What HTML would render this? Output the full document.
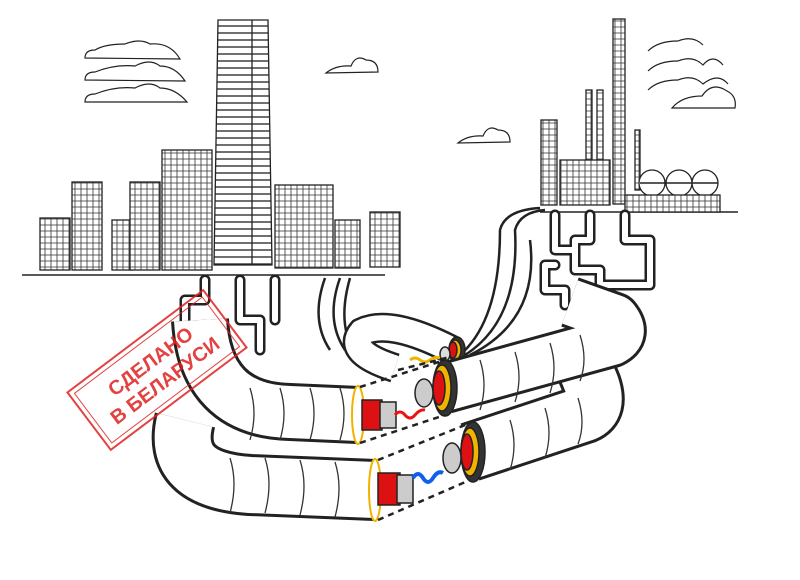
<!DOCTYPE html>
<html><head><meta charset="utf-8"><style>
html,body{margin:0;padding:0;background:#fff;}
svg{display:block}
</style></head><body>
<svg width="800" height="580" viewBox="0 0 800 580" xmlns="http://www.w3.org/2000/svg">
<defs>
<pattern id="h" width="6" height="6" patternUnits="userSpaceOnUse">
<rect width="6" height="6" fill="#fff"/><path d="M0 3H6M3 0V6" stroke="#333" stroke-width="0.8"/>
</pattern>
<pattern id="hz" width="4" height="7" patternUnits="userSpaceOnUse">
<rect width="4" height="7" fill="#fff"/><path d="M0 5H4" stroke="#222" stroke-width="1.3"/>
</pattern>
</defs>
<g stroke="#222" stroke-width="1.2" fill="none">
<path d="M85 58 q0-8 10-8 q10-6 30-6 q15-6 25 0 q20-2 30 15 z M85 80 q0-8 10-8 q20-8 40-6 q15-8 25 0 q15 0 25 15 z M85 102 q0-8 10-8 q20-8 40-6 q15-8 25 0 q15 0 27 14 z"/>
<path d="M326 73 q10-8 25-7 q5-12 15-6 q12 0 12 12 z M458 143 q10-8 25-7 q5-12 15-6 q12 0 12 12 z"/>
<path d="M648 51 q10-10 30-10 q15-6 25 4 M648 71 q10-10 30-10 q15-6 25 4 q10-12 20 0 M648 90 q10-10 30-10 q15-6 25 4 q15-12 25 0 M672 108 q10-12 30-12 q10-15 25-5 q10 5 8 17 z"/>
</g>
<g stroke="#222" stroke-width="1.3">
<rect x="40" y="218" width="30" height="52" fill="url(#h)"/>
<rect x="72" y="182" width="30" height="88" fill="url(#h)"/>
<rect x="112" y="220" width="20" height="50" fill="url(#h)"/>
<rect x="130" y="182" width="30" height="88" fill="url(#h)"/>
<rect x="162" y="150" width="50" height="120" fill="url(#h)"/>
<rect x="275" y="185" width="58" height="83" fill="url(#h)"/>
<rect x="335" y="220" width="25" height="48" fill="url(#h)"/>
<rect x="370" y="212" width="30" height="55" fill="url(#h)"/>
<path d="M218 20 H268 L272 265 H214 Z" fill="url(#hz)"/>
<path d="M252 20 V265" fill="none"/>
<path d="M22 275 H385" fill="none" stroke-width="1.6"/>
</g>
<g stroke="#222" stroke-width="1.3">
<rect x="613" y="19" width="12" height="185" fill="url(#h)"/>
<rect x="586" y="90" width="6" height="100" fill="url(#h)"/>
<rect x="597" y="90" width="6" height="100" fill="url(#h)"/>
<rect x="541" y="120" width="16" height="85" fill="url(#h)"/>
<rect x="560" y="160" width="50" height="45" fill="url(#h)"/>
<rect x="635" y="130" width="5" height="60" fill="url(#h)"/>
<circle cx="652" cy="183" r="13" fill="#fff"/>
<circle cx="679" cy="183" r="13" fill="#fff"/>
<circle cx="705" cy="183" r="13" fill="#fff"/>
<path d="M640 183 H718 M540 212 H738" fill="none" stroke-width="1.6"/>
<rect x="625" y="195" width="95" height="17" fill="url(#h)"/>
</g>
<!-- small pipes -->
<g fill="none" stroke-linecap="round" stroke-linejoin="round">
<path d="M555 215 V250 H575 M590 215 V240 H575 V270 H600 V300 M625 215 V240 H650 V285 H600 M555 265 H545 V290 H565 V305" stroke="#222" stroke-width="11"/>
<path d="M555 215 V250 H575 M590 215 V240 H575 V270 H600 V300 M625 215 V240 H650 V285 H600 M555 265 H545 V290 H565 V305" stroke="#fff" stroke-width="6"/>
<path d="M205 280 V300 H185 V330 M240 280 V320 H260 V350 M275 280 V320" stroke="#222" stroke-width="11"/>
<path d="M205 280 V300 H185 V330 M240 280 V320 H260 V350 M275 280 V320" stroke="#fff" stroke-width="6"/>
</g>
<g fill="none" stroke="#222" stroke-width="2.5">
<path d="M325 278 Q310 320 330 350 M340 278 Q325 320 345 350 M350 278 Q335 330 360 360"/>
<path d="M460 355 Q500 320 500 230 Q505 210 540 208 M465 355 Q520 320 515 230 Q520 212 545 210 M470 355 Q540 320 530 240"/>
</g>
<g fill="none">
<path d="M452 350 Q390 318 362 332 Q345 352 395 368" stroke="#222" stroke-width="30"/>
<path d="M452 350 Q390 318 362 332 Q345 352 395 368" stroke="#fff" stroke-width="25"/>
</g>
<g stroke="#222" stroke-width="1.5">
<ellipse cx="457" cy="350" rx="8" ry="13" fill="#333"/>
<ellipse cx="455" cy="350" rx="6" ry="10" fill="#f0b400"/>
<ellipse cx="453" cy="350" rx="4" ry="8" fill="#d11"/>
<ellipse cx="445" cy="354" rx="5" ry="7" fill="#ddd"/>
</g>
<path d="M410 360 q5-4 10 0 t10 0 t10-2" fill="none" stroke="#f0b400" stroke-width="3"/>
<!-- big pipes -->
<g fill="none" stroke-linecap="butt" stroke-linejoin="round">
<path d="M185 420 Q170 480 250 485 L375 490" stroke="#222" stroke-width="62"/>
<path d="M185 420 Q170 480 250 485 L375 490" stroke="#fff" stroke-width="56"/>
<path d="M470 452 L585 414 Q600 408 592 385 L585 368" stroke="#222" stroke-width="60"/>
<path d="M470 452 L585 414 Q600 408 592 385 L585 368" stroke="#fff" stroke-width="54"/>
<path d="M200 320 Q205 410 290 412 L358 415" stroke="#222" stroke-width="58"/>
<path d="M200 320 Q205 410 290 412 L358 415" stroke="#fff" stroke-width="52"/>
<path d="M445 388 L612 342 Q628 334 615 318 L570 302" stroke="#222" stroke-width="52"/>
<path d="M445 388 L612 342 Q628 334 615 318 L570 302" stroke="#fff" stroke-width="46"/>
</g>
<g fill="none" stroke="#333" stroke-width="1.3">
<path d="M250 388 q8 25 0 52 M280 388 q8 25 0 52 M310 388 q8 25 0 52 M340 388 q8 25 0 52"/>
<path d="M230 458 q8 25 0 55 M265 458 q8 25 0 55 M300 460 q8 25 0 55 M335 462 q8 25 0 55"/>
<path d="M480 360 q8 25 0 50 M515 352 q8 25 0 50 M550 343 q8 25 0 50 M580 335 q8 25 0 46"/>
<path d="M510 420 q8 25 0 50 M545 408 q8 25 0 50 M578 398 q8 25 0 46"/>
</g>
<g stroke="#222" stroke-width="1.5">
<ellipse cx="358" cy="415" rx="6" ry="29" fill="#fff" stroke="#f0b400" stroke-width="2"/>
<rect x="362" y="400" width="20" height="30" fill="#d11"/>
<rect x="380" y="402" width="16" height="26" fill="#ccc"/>
<ellipse cx="445" cy="388" rx="12" ry="28" fill="#333"/>
<ellipse cx="442" cy="388" rx="9" ry="23" fill="#f0b400"/>
<ellipse cx="439" cy="388" rx="6" ry="17" fill="#d11"/>
<ellipse cx="424" cy="393" rx="9" ry="14" fill="#ccc"/>
<ellipse cx="375" cy="490" rx="6" ry="31" fill="#fff" stroke="#f0b400" stroke-width="2"/>
<rect x="378" y="473" width="22" height="32" fill="#d11"/>
<rect x="397" y="475" width="16" height="28" fill="#ccc"/>
<ellipse cx="473" cy="452" rx="12" ry="30" fill="#333"/>
<ellipse cx="470" cy="452" rx="9" ry="24" fill="#f0b400"/>
<ellipse cx="467" cy="452" rx="6" ry="18" fill="#d11"/>
<ellipse cx="452" cy="458" rx="9" ry="15" fill="#ccc"/>
</g>
<path d="M395 415 q5-6 10 0 t10 0 t10-5" fill="none" stroke="#e11" stroke-width="3"/>
<path d="M413 478 q5-8 10 0 t10 0 t10-5" fill="none" stroke="#1060f0" stroke-width="4"/>
<g stroke="#222" stroke-width="2.5" stroke-dasharray="6 5" fill="none">
<path d="M360 387 L445 360 M360 443 L445 415 M378 460 L470 423 M378 520 L470 480 M398 370 L450 357"/>
</g>
<g transform="translate(157,370) rotate(-37)" font-family="Liberation Sans, sans-serif" font-weight="bold" fill="#e02020" opacity="0.85">
<rect x="-85" y="-36" width="170" height="72" fill="none" stroke="#e02020" stroke-width="2"/>
<rect x="-80" y="-31" width="160" height="62" fill="none" stroke="#e02020" stroke-width="1"/>
<text x="0" y="-4" text-anchor="middle" font-size="20">СДЕЛАНО</text>
<text x="0" y="20" text-anchor="middle" font-size="20">В БЕЛАРУСИ</text>
</g>
</svg>
</body></html>
